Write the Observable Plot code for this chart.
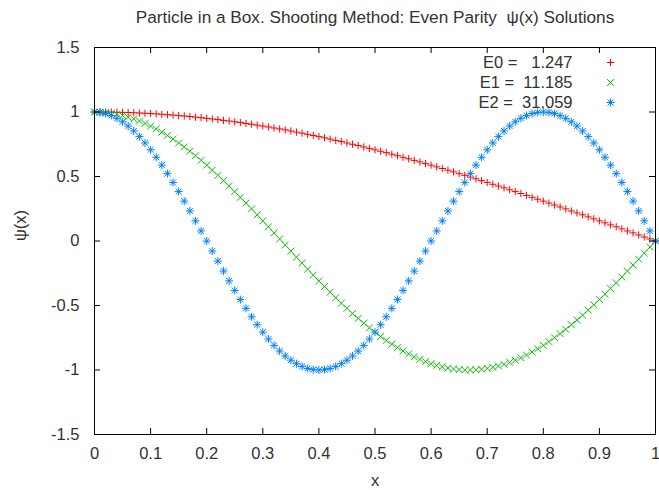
<!DOCTYPE html>
<html><head><meta charset="utf-8">
<script src="https://cdn.jsdelivr.net/npm/d3@7"></script>
<script src="https://cdn.jsdelivr.net/npm/@observablehq/plot@0.6"></script>
<style>body{margin:0;background:#fff}</style>
</head><body><div id="chart"></div>
<script>
const xs = [0,0.01,0.02,0.03,0.04,0.05,0.06,0.07,0.08,0.09,
0.1,0.11,0.12,0.13,0.14,0.15,0.16,0.17,0.18,0.19,
0.2,0.21,0.22,0.23,0.24,0.25,0.26,0.27,0.28,0.29,
0.3,0.31,0.32,0.33,0.34,0.35,0.36,0.37,0.38,0.39,
0.4,0.41,0.42,0.43,0.44,0.45,0.46,0.47,0.48,0.49,
0.5,0.51,0.52,0.53,0.54,0.55,0.56,0.57,0.58,0.59,
0.6,0.61,0.62,0.63,0.64,0.65,0.66,0.67,0.68,0.69,
0.7,0.71,0.72,0.73,0.74,0.75,0.76,0.77,0.78,0.79,
0.8,0.81,0.82,0.83,0.84,0.85,0.86,0.87,0.88,0.89,
0.9,0.91,0.92,0.93,0.94,0.95,0.96,0.97,0.98,0.99,1];

const psi0 = [1.000,1.000,1.000,0.999,0.998,0.997,0.996,0.994,0.992,0.990,
0.988,0.985,0.982,0.979,0.976,0.972,0.969,0.965,0.960,0.956,
0.951,0.946,0.941,0.935,0.930,0.924,0.918,0.911,0.905,0.898,
0.891,0.884,0.876,0.869,0.861,0.853,0.844,0.836,0.827,0.818,
0.809,0.800,0.790,0.780,0.771,0.760,0.750,0.740,0.729,0.718,
0.707,0.696,0.685,0.673,0.661,0.649,0.637,0.625,0.613,0.600,
0.588,0.575,0.562,0.549,0.536,0.522,0.509,0.495,0.482,0.468,
0.454,0.440,0.426,0.412,0.397,0.383,0.368,0.353,0.339,0.324,
0.309,0.294,0.279,0.264,0.249,0.233,0.218,0.203,0.187,0.172,
0.156,0.141,0.125,0.110,0.094,0.078,0.063,0.047,0.031,0.016,0];

const psi1 = [1.000,0.999,0.996,0.990,0.982,0.972,0.960,0.946,0.930,0.911,
0.891,0.869,0.844,0.818,0.790,0.760,0.729,0.696,0.661,0.625,
0.588,0.549,0.509,0.468,0.426,0.383,0.339,0.294,0.249,0.203,
0.156,0.110,0.063,0.016,-0.031,-0.078,-0.125,-0.172,-0.218,-0.264,
-0.309,-0.353,-0.397,-0.440,-0.482,-0.522,-0.562,-0.600,-0.637,-0.673,
-0.707,-0.740,-0.771,-0.800,-0.827,-0.853,-0.876,-0.898,-0.918,-0.935,
-0.951,-0.965,-0.976,-0.985,-0.992,-0.997,-1.000,-1.000,-0.998,-0.994,
-0.988,-0.979,-0.969,-0.956,-0.941,-0.924,-0.905,-0.884,-0.861,-0.836,
-0.809,-0.780,-0.750,-0.718,-0.685,-0.649,-0.613,-0.575,-0.536,-0.495,
-0.454,-0.412,-0.368,-0.324,-0.279,-0.233,-0.187,-0.141,-0.094,-0.047,0];

const psi2 = [1.000,0.997,0.988,0.972,0.951,0.924,0.891,0.853,0.809,0.760,
0.707,0.649,0.588,0.522,0.454,0.383,0.309,0.233,0.156,0.078,
0.000,-0.078,-0.156,-0.233,-0.309,-0.383,-0.454,-0.522,-0.588,-0.649,
-0.707,-0.760,-0.809,-0.853,-0.891,-0.924,-0.951,-0.972,-0.988,-0.997,
-1.000,-0.997,-0.988,-0.972,-0.951,-0.924,-0.891,-0.853,-0.809,-0.760,
-0.707,-0.649,-0.588,-0.522,-0.454,-0.383,-0.309,-0.233,-0.156,-0.078,
0.000,0.078,0.156,0.233,0.309,0.383,0.454,0.522,0.588,0.649,
0.707,0.760,0.809,0.853,0.891,0.924,0.951,0.972,0.988,0.997,
1.000,0.997,0.988,0.972,0.951,0.924,0.891,0.853,0.809,0.760,
0.707,0.649,0.588,0.522,0.454,0.383,0.309,0.233,0.156,0.078,0];

const seriesNames = ["E0", "E1", "E2"];
const energies = ["1.247", "11.185", "31.059"];
const legendLabels = ["E0 =\u00a0\u00a0\u00a01.247", "E1 =\u00a0\u00a011.185", "E2 =\u00a0\u00a031.059"];
const xTicks = [0,0.1,0.2,0.3,0.4,0.5,0.6,0.7,0.8,0.9,1];
const yTicks = [-1.5,-1,-0.5,0,0.5,1,1.5];
const titleText = "Particle in a Box. Shooting Method: Even Parity\u00a0\u00a0\u03c8(x) Solutions";
const xLabel = "x";
const yLabel = "\u03c8(x)";
const colors = ["#ff0000", "#00c000", "#0080ff"];

const W = 659, H = 490, mL = 94, mR = 4, mT = 47, mB = 56;
const fw = W - mL - mR, fh = H - mT - mB;

const plusSym = {draw(c, s) { const r = Math.sqrt(s / Math.PI); c.moveTo(-r, 0); c.lineTo(r, 0); c.moveTo(0, -r); c.lineTo(0, r); }};
const timesSym = {draw(c, s) { const r = Math.sqrt(s / Math.PI); c.moveTo(-r, -r); c.lineTo(r, r); c.moveTo(-r, r); c.lineTo(r, -r); }};
const starSym = {draw(c, s) { plusSym.draw(c, s); timesSym.draw(c, s * 0.55); }};
const symbols = [plusSym, timesSym, starSym];
const radii = [3.6, 3.4, 4];

const allPsi = [psi0, psi1, psi2];
const tables = allPsi.map(p => xs.map((x, i) => ({x, y: p[i]})));

const txt = {fill: "#333", lineAnchor: "middle"};
const marks = [];
tables.forEach((t, k) => {
  marks.push(Plot.dot(t, {x: "x", y: "y", symbol: () => symbols[k], r: radii[k], stroke: colors[k], fill: "none", strokeWidth: 1}));
});
// inward ticks on all four sides
marks.push(Plot.ruleX(xTicks, {x: d => d, insetTop: fh - 6, stroke: "#000"}));
marks.push(Plot.ruleX(xTicks, {x: d => d, insetBottom: fh - 6, stroke: "#000"}));
marks.push(Plot.ruleY(yTicks, {y: d => d, insetRight: fw - 6, stroke: "#000"}));
marks.push(Plot.ruleY(yTicks, {y: d => d, insetLeft: fw - 6, stroke: "#000"}));
marks.push(Plot.frame({stroke: "#000"}));
// tick labels
marks.push(Plot.text(xTicks, {...txt, x: d => d, text: d => String(d), frameAnchor: "bottom", dy: 19}));
marks.push(Plot.text(yTicks, {...txt, y: d => d, text: d => String(d), frameAnchor: "left", dx: -15, textAnchor: "end"}));
// titles
marks.push(Plot.text([titleText], {...txt, frameAnchor: "top", dy: -30, fontSize: 17.2}));
marks.push(Plot.text([xLabel], {...txt, frameAnchor: "bottom", dy: 46}));
marks.push(Plot.text([yLabel], {...txt, frameAnchor: "left", dx: -74, rotate: -90}));
// legend
legendLabels.forEach((l, k) => {
  marks.push(Plot.text([l], {...txt, frameAnchor: "top-right", dx: -83, dy: 15 + 20 * k, textAnchor: "end"}));
  marks.push(Plot.dot([0], {frameAnchor: "top-right", dx: -45, dy: 15 + 20 * k, symbol: () => symbols[k], r: radii[k], stroke: colors[k], fill: "none", strokeWidth: 1}));
});

const chart = Plot.plot({
  width: W, height: H,
  marginLeft: mL, marginRight: mR, marginTop: mT, marginBottom: mB,
  x: {domain: [0, 1], axis: null},
  y: {domain: [-1.5, 1.5], axis: null},
  style: {fontFamily: "'Liberation Sans', Arial, sans-serif", fontSize: "16.5px", background: "#fff"},
  marks
});
document.getElementById("chart").appendChild(chart);
</script>
</body></html>
